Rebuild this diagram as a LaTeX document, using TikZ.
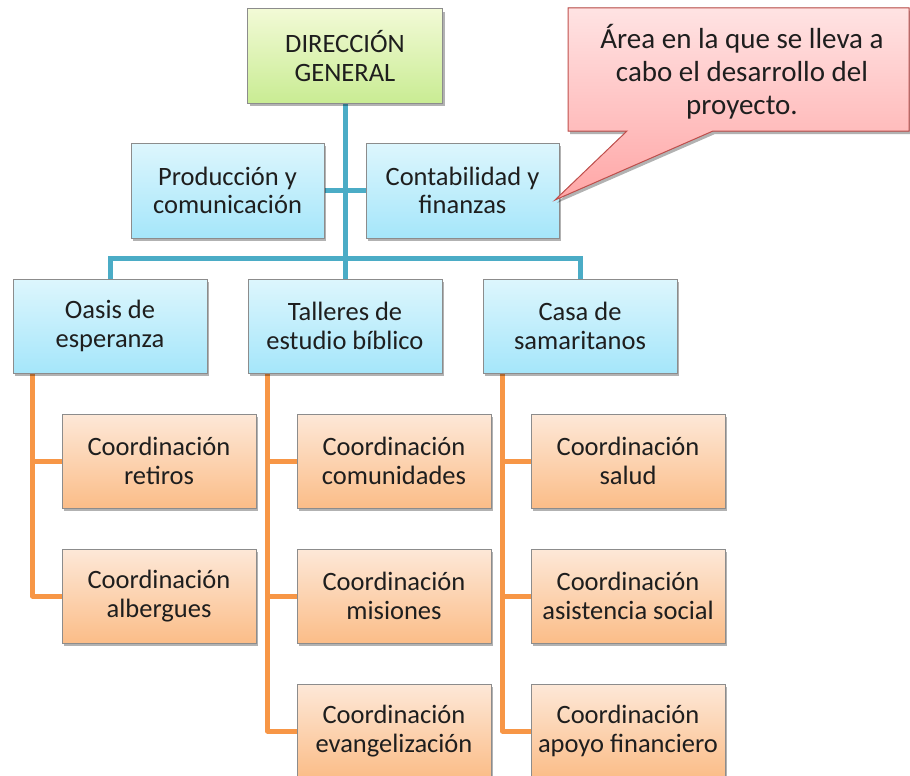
\documentclass[tikz,border=0pt]{standalone}
\usepackage{fontspec}
\setmainfont{Carlito}
\usetikzlibrary{shadows}
\pgfdeclarelayer{background}
\pgfsetlayers{background,main}
\definecolor{bluetop}{HTML}{DDF6FD}
\definecolor{bluebot}{HTML}{A5E6FA}
\definecolor{orgtop}{HTML}{FDE8D8}
\definecolor{orgbot}{HTML}{FBBD88}
\definecolor{grntop}{HTML}{F2FAD6}
\definecolor{grnbot}{HTML}{C9EC93}
\definecolor{redtop}{HTML}{FFE3E3}
\definecolor{redbot}{HTML}{FFA6A6}
\definecolor{redline}{HTML}{C0504D}
\definecolor{boxline}{HTML}{8C8C8C}
\definecolor{blueconn}{HTML}{4BACC6}
\definecolor{orgconn}{HTML}{F79646}
\definecolor{txt}{HTML}{1E1E1E}
\tikzset{
  box/.style={rectangle, draw=boxline, line width=1pt, minimum width=194pt, minimum height=94pt,
    align=center, text=txt, inner sep=0pt,
    font=\fontsize{26.5}{28.5}\selectfont,
    drop shadow={shadow xshift=2pt, shadow yshift=-3pt, opacity=0.3, fill=black}},
  bluebox/.style={box, top color=bluetop, bottom color=bluebot},
  orgbox/.style={box, top color=orgtop, bottom color=orgbot},
  grnbox/.style={box, top color=grntop, bottom color=grnbot},
  bconn/.style={draw=blueconn, line width=5pt},
  oconn/.style={draw=orgconn, line width=5pt, line join=round},
}
\begin{document}
\begin{tikzpicture}[x=1pt,y=-1pt]
\useasboundingbox (0,0) rectangle (910,776);
% nodes
\node[grnbox, minimum width=195pt] (dg) at (345,56) {DIRECCIÓN\\GENERAL};
\node[bluebox, minimum width=193pt, minimum height=95pt] (prod) at (227.5,190.5) {Producción y\\comunicación};
\node[bluebox, minimum width=193pt, minimum height=95pt] (cont) at (462.5,190.5) {Contabilidad y\\finanzas};
\node[bluebox] (oasis) at (110,326) {Oasis de\\esperanza};
\node[bluebox] (tall) at (345,326) {Talleres de\\estudio bíblico};
\node[bluebox] (casa) at (580,326) {Casa de\\samaritanos};
\node[orgbox] (o1) at (159,461) {Coordinación\\retiros};
\node[orgbox] (o2) at (159,596) {Coordinación\\albergues};
\node[orgbox] (t1) at (394,461) {Coordinación\\comunidades};
\node[orgbox] (t2) at (394,596) {Coordinación\\misiones};
\node[orgbox] (t3) at (394,731) {Coordinación\\evangelización};
\node[orgbox] (c1) at (628,461) {Coordinación\\salud};
\node[orgbox] (c2) at (628,596) {Coordinación\\asistencia social};
\node[orgbox] (c3) at (628,731) {Coordinación\\apoyo financiero};
% callout
\filldraw[draw=redline, line width=1pt, top color=redtop, bottom color=redbot,
  drop shadow={shadow xshift=2pt, shadow yshift=-3pt, opacity=0.3, fill=black}]
  (568,8) -- (909,8) -- (909,131) -- (713,131) -- (555,200) -- (627,131) -- (568,131) -- cycle;
\node[align=center, text=txt, font=\fontsize{29}{33}\selectfont, inner sep=0pt] (note) at (742,72)
  {Área en la que se lleva a\\cabo el desarrollo del\\proyecto.};
% connectors
\begin{pgfonlayer}{background}
\coordinate (hj) at (345,258);
\draw[bconn] (dg.south) -- (tall.north);
\draw[bconn] (prod.east) -- (prod.east -| dg.south);
\draw[bconn] (cont.west) -- (cont.west -| dg.south);
\draw[bconn] (oasis.north) |- (hj) -| (casa.north);
\draw[oconn] (oasis.south west) ++(20pt,0) coordinate (oa) -- (oa |- o2.west) -- (o2.west);
\draw[oconn] (oa |- o1.west) -- (o1.west);
\draw[oconn] (tall.south west) ++(20pt,0) coordinate (ta) -- (ta |- t3.west) -- (t3.west);
\draw[oconn] (ta |- t1.west) -- (t1.west);
\draw[oconn] (ta |- t2.west) -- (t2.west);
\draw[oconn] (casa.south west) ++(20pt,0) coordinate (ca) -- (ca |- c3.west) -- (c3.west);
\draw[oconn] (ca |- c1.west) -- (c1.west);
\draw[oconn] (ca |- c2.west) -- (c2.west);
\end{pgfonlayer}
\end{tikzpicture}
\end{document}
